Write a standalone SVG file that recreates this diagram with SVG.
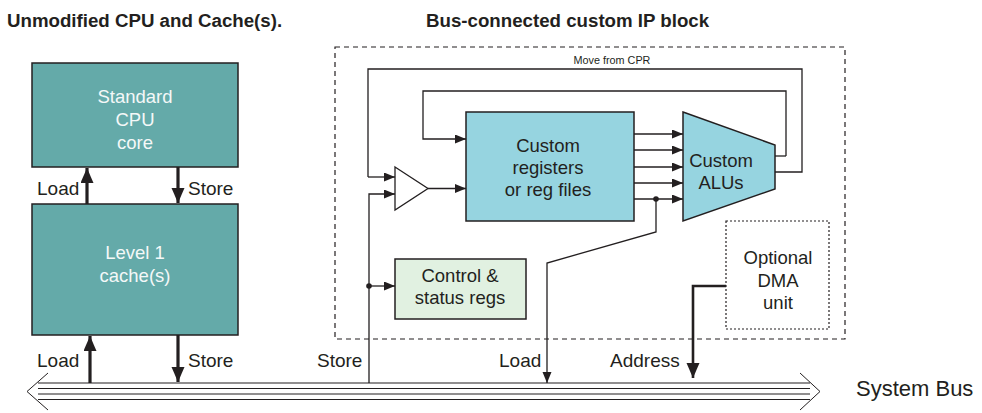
<svg xmlns="http://www.w3.org/2000/svg" width="982" height="413" viewBox="0 0 982 413">
<style>
text{font-family:"Liberation Sans",Arial,sans-serif;fill:#231f20}
.t{font-size:18.5px}
.l{font-size:19px}
.w{fill:#f4f8f8}
.h{font-size:18.7px;font-weight:bold}
.s{font-size:10.8px}
.ln{fill:none;stroke:#231f20;stroke-width:1.3}
.tk{fill:none;stroke:#231f20;stroke-width:3.2}
.bx{stroke:#231f20;stroke-width:1.5}
</style>
<defs>
<marker id="a" markerUnits="userSpaceOnUse" markerWidth="12" markerHeight="10" refX="11" refY="4.5" orient="auto"><path d="M0,0L11,4.5L0,9z" fill="#231f20"/></marker>
<marker id="b" markerUnits="userSpaceOnUse" markerWidth="16" markerHeight="14" refX="15" refY="6.5" orient="auto"><path d="M0,0L15,6.5L0,13z" fill="#231f20"/></marker>
</defs>
<text class="h" x="7" y="27">Unmodified CPU and Cache(s).</text>
<text class="h" x="426" y="27">Bus-connected custom IP block</text>
<rect x="335" y="47" width="510" height="292" fill="none" stroke="#231f20" stroke-width="1.2" stroke-dasharray="5,4"/>
<text class="s" x="612" y="64" text-anchor="middle">Move from CPR</text>
<g id="cpu"><rect class="bx" x="32" y="63" width="206" height="104" fill="#64aaa9"/>
<text class="t w" x="135" y="103" text-anchor="middle">Standard</text>
<text class="t w" x="135" y="126" text-anchor="middle">CPU</text>
<text class="t w" x="135" y="149" text-anchor="middle">core</text></g>
<g id="cache"><rect class="bx" x="32" y="204" width="206" height="131" fill="#64aaa9"/>
<text class="t w" x="135" y="259" text-anchor="middle">Level 1</text>
<text class="t w" x="135" y="282" text-anchor="middle">cache(s)</text></g>
<g id="regs"><rect class="bx" x="466" y="112" width="168" height="109" fill="#96d4e0"/>
<text class="t" x="548" y="152" text-anchor="middle">Custom</text>
<text class="t" x="548" y="174" text-anchor="middle">registers</text>
<text class="t" x="548" y="196" text-anchor="middle">or reg files</text></g>
<g id="alu"><path class="bx" d="M683,112L775,145L775,189L683,221z" fill="#96d4e0"/>
<text class="t" x="721" y="167" text-anchor="middle">Custom</text>
<text class="t" x="721" y="189" text-anchor="middle">ALUs</text></g>
<g id="mux"><path d="M395,167L428,188.5L395,210z" fill="#fff" stroke="#231f20" stroke-width="1.3"/></g>
<g id="ctrl"><rect class="bx" x="395" y="259" width="131" height="60" fill="#e1f1e1"/>
<text class="t" x="460" y="282" text-anchor="middle">Control &amp;</text>
<text class="t" x="460" y="304" text-anchor="middle">status regs</text></g>
<g id="dma"><rect x="726" y="221" width="103" height="108" fill="none" stroke="#231f20" stroke-width="1.2" stroke-dasharray="2,2"/>
<text class="t" x="778" y="264" text-anchor="middle">Optional</text>
<text class="t" x="778" y="287" text-anchor="middle">DMA</text>
<text class="t" x="778" y="309" text-anchor="middle">unit</text></g>
<g id="bus">
<path d="M38,383H810M38,388.5H810M38,394H810M38,399.5H810" stroke="#231f20" stroke-width="1.2" fill="none"/>
<path d="M48,373L27,391.5L48,410M800,373L820,391.5L800,410" fill="none" stroke="#231f20" stroke-width="1"/>
<text x="856" y="396" style="font-size:22px">System Bus</text></g>
<g id="connectors">
<path class="tk" d="M87,204V168" marker-end="url(#b)"/>
<path class="tk" d="M178,167V203" marker-end="url(#b)"/>
<path class="tk" d="M90,383V336" marker-end="url(#b)"/>
<path class="tk" d="M178,335V382" marker-end="url(#b)"/>
<path class="ln" d="M368,177V69H802V172H775"/>
<path class="ln" d="M368,177H395" marker-end="url(#a)"/>
<path class="ln" d="M786,156V91H423V139H466" marker-end="url(#a)"/>
<path class="ln" d="M775,156H786"/>
<path class="ln" d="M428,188.5H466" marker-end="url(#a)"/>
<path class="ln" d="M369,383V194H395" marker-end="url(#a)"/>
<path class="ln" d="M369,286H395" marker-end="url(#a)"/>
<circle cx="369" cy="286" r="2.8" fill="#231f20"/>
<path class="ln" d="M634,134H683" marker-end="url(#a)"/>
<path class="ln" d="M634,150H683" marker-end="url(#a)"/>
<path class="ln" d="M634,167H683" marker-end="url(#a)"/>
<path class="ln" d="M634,183H683" marker-end="url(#a)"/>
<path class="ln" d="M634,199H683" marker-end="url(#a)"/>
<circle cx="656" cy="199" r="2.8" fill="#231f20"/>
<path class="ln" d="M656,199V232L547,263V383" marker-end="url(#a)"/>
<path class="tk" d="M726,286H693V378" marker-end="url(#b)" style="stroke-width:2.6"/>
</g>
<text class="l" x="37" y="195">Load</text>
<text class="l" x="188" y="195">Store</text>
<text class="l" x="37" y="367">Load</text>
<text class="l" x="188" y="367">Store</text>
<text class="l" x="317" y="367">Store</text>
<text class="l" x="499" y="367">Load</text>
<text class="l" x="610" y="367">Address</text>
</svg>
